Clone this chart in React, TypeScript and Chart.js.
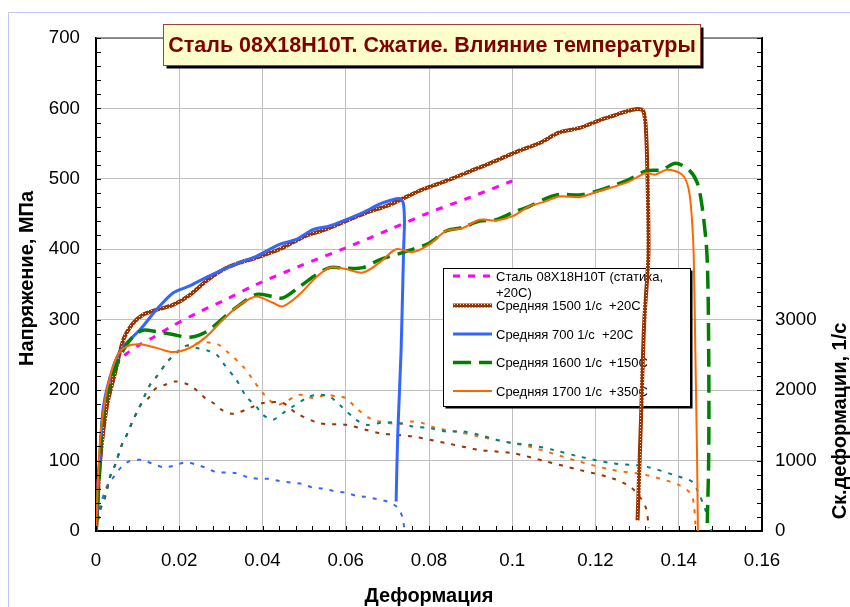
import React, { useEffect, useRef } from "react";
import { Chart, registerables } from "chart.js";

Chart.register(...registerables);

const FONT = '"Liberation Sans", Arial, Helvetica, sans-serif';

// ---- Stress–strain curves (strain, MPa) ----
const staticStrain = [0, 0.0005, 0.0014, 0.0026, 0.004, 0.0055, 0.0074, 0.0106, 0.0138, 0.0177, 0.0241, 0.0313, 0.0385, 0.0489, 0.06, 0.0705, 0.08, 0.09, 0.1];
const staticStress = [0, 75, 120, 189, 222, 240, 252, 265, 275, 289, 309, 329, 350, 376, 402, 428, 452, 474, 497];

const s1500Strain = [0, 0.001, 0.0026, 0.0046, 0.0066, 0.0089, 0.0113, 0.0145, 0.0185, 0.0225, 0.0265, 0.0305, 0.0345, 0.0385, 0.0441, 0.05, 0.055, 0.06, 0.065, 0.07, 0.0737, 0.0785, 0.0841, 0.09, 0.095, 0.1017, 0.107, 0.1113, 0.116, 0.1209, 0.124, 0.127, 0.1297, 0.1315, 0.1322, 0.1326, 0.1327, 0.1317, 0.1309, 0.1301];
const s1500Stress = [0, 100, 177, 225, 272, 295, 307, 314, 321, 335, 355, 371, 381, 388, 400, 418, 428, 440, 452, 462, 472, 485, 497, 511, 523, 540, 552, 566, 572, 583, 589, 595, 599, 596, 560, 470, 390, 296, 153, 15];

const s700Strain = [0, 0.0008, 0.0018, 0.0042, 0.0066, 0.0106, 0.0145, 0.0185, 0.0225, 0.0265, 0.0305, 0.0345, 0.0385, 0.0441, 0.0481, 0.0521, 0.0561, 0.0601, 0.0641, 0.0681, 0.071, 0.0728, 0.0738, 0.0741, 0.0739, 0.0733, 0.0725, 0.0721];
const s700Stress = [0, 90, 177, 234, 262, 286, 314, 338, 348, 360, 371, 381, 390, 407, 414, 428, 433, 442, 452, 464, 470, 472, 466, 440, 400, 257, 139, 42];

const s1600Strain = [0, 0.0008, 0.0018, 0.0042, 0.0066, 0.0089, 0.0113, 0.0145, 0.0185, 0.0225, 0.0265, 0.0305, 0.0345, 0.0385, 0.0425, 0.0449, 0.0489, 0.0525, 0.0561, 0.06, 0.0641, 0.0681, 0.0745, 0.0801, 0.0841, 0.0881, 0.0921, 0.0961, 0.1001, 0.1041, 0.108, 0.1113, 0.1161, 0.12, 0.124, 0.128, 0.132, 0.136, 0.1392, 0.1424, 0.1444, 0.1456, 0.1468, 0.1472, 0.1472, 0.1468];
const s1600Stress = [0, 80, 168, 224, 257, 276, 285, 283, 279, 275, 283, 302, 321, 336, 333, 331, 347, 362, 374, 373, 374, 385, 397, 409, 426, 431, 440, 442, 452, 461, 472, 478, 477, 482, 490, 499, 511, 513, 522, 513, 495, 461, 390, 248, 106, 0];

const s1700Strain = [0, 0.001, 0.0026, 0.005, 0.0074, 0.0106, 0.0145, 0.0185, 0.0225, 0.0265, 0.0305, 0.0345, 0.0385, 0.0425, 0.0449, 0.0489, 0.0525, 0.0561, 0.06, 0.0641, 0.0681, 0.0721, 0.0761, 0.0801, 0.0841, 0.0881, 0.0921, 0.0961, 0.1001, 0.1041, 0.108, 0.1113, 0.1161, 0.12, 0.124, 0.128, 0.132, 0.1344, 0.1372, 0.1408, 0.1424, 0.1432, 0.1436, 0.144, 0.1444, 0.1446];
const s1700Stress = [0, 130, 200, 248, 262, 265, 260, 254, 260, 276, 300, 321, 333, 324, 319, 336, 358, 374, 372, 367, 381, 400, 396, 407, 426, 430, 442, 441, 447, 461, 468, 475, 474, 481, 488, 496, 508, 506, 513, 506, 485, 440, 390, 248, 106, 0];

// ---- Strain-rate curves (strain, 1/s) ----
const r700Strain = [0, 0.001, 0.0026, 0.0044, 0.0062, 0.0082, 0.011, 0.0138, 0.0162, 0.0186, 0.0212, 0.0238, 0.0262, 0.0288, 0.0314, 0.0337, 0.0365, 0.0391, 0.0417, 0.0443, 0.0469, 0.0495, 0.0521, 0.0546, 0.0573, 0.06, 0.0624, 0.0649, 0.0676, 0.0701, 0.0725, 0.0737, 0.0741];
const r700Rate = [0, 346, 630, 780, 915, 996, 1010, 949, 906, 925, 972, 949, 901, 839, 829, 820, 764, 740, 740, 707, 687, 669, 616, 602, 565, 545, 502, 484, 451, 417, 331, 181, 0];

const r1500Strain = [0, 0.001, 0.0022, 0.0034, 0.0046, 0.0062, 0.0074, 0.0086, 0.0106, 0.0126, 0.0142, 0.0166, 0.019, 0.0218, 0.0238, 0.0262, 0.0282, 0.0302, 0.0329, 0.0369, 0.0401, 0.0449, 0.0481, 0.0537, 0.0601, 0.0681, 0.0761, 0.0841, 0.0921, 0.1001, 0.108, 0.1161, 0.124, 0.1288, 0.132, 0.1328];
const r1500Rate = [0, 300, 488, 773, 939, 1223, 1366, 1532, 1778, 1887, 2016, 2077, 2124, 2087, 2016, 1887, 1817, 1721, 1664, 1745, 1817, 1817, 1674, 1532, 1508, 1390, 1342, 1248, 1152, 1105, 990, 868, 750, 607, 346, 40];

const r1600Strain = [0, 0.001, 0.0022, 0.0034, 0.0046, 0.0062, 0.0074, 0.0086, 0.0102, 0.0118, 0.013, 0.0146, 0.0174, 0.0198, 0.0218, 0.0242, 0.0266, 0.029, 0.0305, 0.0337, 0.0361, 0.0385, 0.0401, 0.0425, 0.0449, 0.0473, 0.0513, 0.0537, 0.0561, 0.0585, 0.0625, 0.0649, 0.0681, 0.0721, 0.0761, 0.0801, 0.0841, 0.0881, 0.0921, 0.0961, 0.1001, 0.1041, 0.11, 0.1161, 0.124, 0.132, 0.14, 0.1432, 0.1448, 0.1464, 0.1472, 0.1478];
const r1600Rate = [0, 300, 488, 773, 939, 1223, 1366, 1532, 1730, 1934, 2077, 2195, 2422, 2550, 2632, 2598, 2565, 2503, 2385, 2148, 1910, 1768, 1650, 1579, 1674, 1768, 1910, 1934, 1910, 1792, 1579, 1508, 1532, 1541, 1484, 1461, 1413, 1413, 1366, 1296, 1248, 1224, 1150, 1057, 963, 915, 773, 701, 536, 299, 110, 0];

const r1700Strain = [0, 0.001, 0.0022, 0.0034, 0.0046, 0.0062, 0.0074, 0.0086, 0.0102, 0.0118, 0.013, 0.0146, 0.0174, 0.0198, 0.0218, 0.0238, 0.0266, 0.0294, 0.0314, 0.0353, 0.0377, 0.0401, 0.0433, 0.0457, 0.0489, 0.0521, 0.0553, 0.0577, 0.0601, 0.0625, 0.0657, 0.0681, 0.0729, 0.0761, 0.0785, 0.0817, 0.0865, 0.0921, 0.1001, 0.1041, 0.1161, 0.124, 0.132, 0.14, 0.1428, 0.1436, 0.144, 0.1444];
const r1700Rate = [0, 300, 488, 773, 939, 1223, 1366, 1532, 1730, 1934, 2077, 2195, 2422, 2560, 2632, 2660, 2679, 2646, 2551, 2337, 2148, 1958, 1790, 1840, 1934, 1887, 1934, 1910, 1887, 1745, 1603, 1555, 1522, 1555, 1532, 1461, 1413, 1342, 1248, 1200, 986, 868, 797, 654, 536, 394, 110, 0];

// ---- Text ----
const titleText = "Сталь 08Х18Н10Т. Сжатие. Влияние температуры";
const xTitle = "Деформация";
const yTitle = "Напряжение, МПа";
const y2Title = "Ск.деформации, 1/с";
const legendLabels = [
  "Сталь 08Х18Н10Т (статика, +20С)",
  "Средняя 1500 1/с  +20С",
  "Средняя 700 1/с  +20С",
  "Средняя 1600 1/с  +150С",
  "Средняя 1700 1/с  +350С",
];
const rateLabels = ["Скорость 700 1/с", "Скорость 1500 1/с", "Скорость 1600 1/с", "Скорость 1700 1/с"];

// axis ranges and tick spacing
const strainMax = 0.16;
const strainStep = 0.02;
const strainMinor = 0.004;
const stressMax = 700;
const stressStep = 100;
const stressMinor = 20;
const rateMax = 7000;
const rateStep = 1000;
const rateMinor = 200;
const rateLabelMax = 3000;

const TICK_FONT = { size: 18.7, family: FONT };

const pts = (xs: number[], ys: number[]) => xs.map((x, i) => ({ x, y: ys[i] }));

function wrapText(ctx: CanvasRenderingContext2D, text: string, maxWidth: number): string[] {
  const words = text.split(" ");
  const lines: string[] = [];
  let cur = "";
  for (const w of words) {
    const test = cur ? cur + " " + w : w;
    if (ctx.measureText(test).width > maxWidth && cur) {
      lines.push(cur);
      cur = w;
    } else cur = test;
  }
  if (cur) lines.push(cur);
  return lines;
}

const decorPlugin = {
  id: "decor",
  beforeDraw(chart: any) {
    const c: CanvasRenderingContext2D = chart.ctx;
    c.save();
    c.strokeStyle = "#c4c4f4";
    c.lineWidth = 1;
    c.beginPath();
    c.moveTo(8.5, chart.height);
    c.lineTo(8.5, 12.5);
    c.lineTo(chart.width, 12.5);
    c.stroke();
    c.restore();
  },
  beforeDatasetsDraw(chart: any) {
    const c: CanvasRenderingContext2D = chart.ctx;
    const a = chart.chartArea;
    c.save();
    // upper frame of the plot area
    c.strokeStyle = "#6e6e6e";
    c.lineWidth = 1.5;
    c.beginPath();
    c.moveTo(a.left, a.top);
    c.lineTo(a.right, a.top);
    c.stroke();

    // legend box
    const bx = 443.5, by = 268.5, bw = 247, bh = 138;
    c.fillStyle = "#000";
    c.fillRect(bx + 2, by + 2, bw, bh);
    c.fillStyle = "#fff";
    c.fillRect(bx, by, bw, bh);
    c.strokeStyle = "#000";
    c.lineWidth = 1;
    c.strokeRect(bx, by, bw, bh);

    c.font = `13px ${FONT}`;
    c.textBaseline = "middle";
    c.textAlign = "left";
    const rowY = [277, 306.5, 335, 363.5, 392];
    for (let i = 0; i < legendLabels.length; i++) {
      const ds = chart.data.datasets[i];
      const y = rowY[i];
      c.save();
      c.strokeStyle = ds.borderColor;
      c.lineWidth = ds.borderWidth;
      c.setLineDash(ds.borderDash || []);
      c.beginPath();
      c.moveTo(453, y - 1);
      c.lineTo(492, y - 1);
      c.stroke();
      c.restore();
      c.fillStyle = "#000";
      const lines = wrapText(c, legendLabels[i], 185);
      lines.forEach((ln, k) => c.fillText(ln, 496, y + k * 16));
    }
    c.restore();
  },
  afterDraw(chart: any) {
    const c: CanvasRenderingContext2D = chart.ctx;
    const a = chart.chartArea;
    const { x, y, y2 } = chart.scales;
    c.save();
    // inner tick marks
    c.strokeStyle = "#000";
    c.lineWidth = 1;
    c.beginPath();
    for (let i = 0; i <= Math.round(strainMax / strainMinor); i++) {
      const px = Math.round(x.getPixelForValue(i * strainMinor)) + 0.5;
      c.moveTo(px, a.bottom);
      c.lineTo(px, a.bottom - 5);
    }
    for (let i = 0; i <= stressMax / stressMinor; i++) {
      const py = Math.round(y.getPixelForValue(i * stressMinor)) + 0.5;
      c.moveTo(a.left, py);
      c.lineTo(a.left + 5, py);
    }
    for (let i = 0; i <= rateMax / rateMinor; i++) {
      const py = Math.round(y2.getPixelForValue(i * rateMinor)) + 0.5;
      c.moveTo(a.right - 5, py);
      c.lineTo(a.right, py);
    }
    c.stroke();

    // axis titles
    c.fillStyle = "#000";
    c.font = `bold 20px ${FONT}`;
    c.textAlign = "center";
    c.textBaseline = "middle";
    c.fillText(xTitle, (a.left + a.right) / 2, 596);
    c.save();
    c.translate(27, 278.5);
    c.rotate(-Math.PI / 2);
    c.fillText(yTitle, 0, 0);
    c.restore();
    c.save();
    c.translate(840, 421);
    c.rotate(-Math.PI / 2);
    c.fillText(y2Title, 0, 0);
    c.restore();

    // chart title box
    const tx = 163.5, ty = 24.5, tw = 537, th = 41;
    c.fillStyle = "#000";
    c.fillRect(tx + 3, ty + 3, tw, th);
    c.fillStyle = "#ffffcc";
    c.fillRect(tx, ty, tw, th);
    c.strokeStyle = "#a04040";
    c.lineWidth = 1;
    c.strokeRect(tx, ty, tw, th);
    c.fillStyle = "#800000";
    c.font = `bold 21.5px ${FONT}`;
    c.fillText(titleText, tx + tw / 2, ty + th / 2 + 1);
    c.restore();
  },
};

export default function App() {
  const ref = useRef<HTMLCanvasElement>(null);

  useEffect(() => {
    const canvas = ref.current!;
    const ctx = canvas.getContext("2d")!;

    // textured stroke for the 1500 1/s curve
    const pc = document.createElement("canvas");
    pc.width = 3;
    pc.height = 3;
    const g = pc.getContext("2d")!;
    g.fillStyle = "#993300";
    g.fillRect(0, 0, 3, 3);
    g.fillStyle = "#f6dcc4";
    g.fillRect(1, 1, 1, 1);
    const brownPattern = ctx.createPattern(pc, "repeat");

    const base = { showLine: true, pointRadius: 0, pointHoverRadius: 0, fill: false, tension: 0.3 };
    const rateBase = { ...base, yAxisID: "y2", borderWidth: 2, borderDash: [4, 7] };

    const chart = new Chart(canvas, {
      type: "scatter",
      data: {
        datasets: [
          { ...base, label: legendLabels[0], data: pts(staticStrain, staticStress), borderColor: "#ff00ff", borderWidth: 3, borderDash: [7, 8], yAxisID: "y", order: 5 },
          { ...base, label: legendLabels[1], data: pts(s1500Strain, s1500Stress), borderColor: brownPattern, borderWidth: 4, yAxisID: "y", order: 4 },
          { ...base, label: legendLabels[2], data: pts(s700Strain, s700Stress), borderColor: "#3366ff", borderWidth: 3, yAxisID: "y", order: 3 },
          { ...base, label: legendLabels[3], data: pts(s1600Strain, s1600Stress), borderColor: "#008000", borderWidth: 3.5, borderDash: [18, 8], yAxisID: "y", order: 2 },
          { ...base, label: legendLabels[4], data: pts(s1700Strain, s1700Stress), borderColor: "#ff6600", borderWidth: 2, yAxisID: "y", order: 1 },
          { ...rateBase, label: rateLabels[0], data: pts(r700Strain, r700Rate), borderColor: "#3366ff", order: 9 },
          { ...rateBase, label: rateLabels[1], data: pts(r1500Strain, r1500Rate), borderColor: "#993300", order: 7 },
          { ...rateBase, label: rateLabels[2], data: pts(r1600Strain, r1600Rate), borderColor: "#008080", order: 6 },
          { ...rateBase, label: rateLabels[3], data: pts(r1700Strain, r1700Rate), borderColor: "#ff6600", order: 8 },
        ] as any,
      },
      options: {
        responsive: false,
        animation: false,
        events: [],
        layout: { padding: { top: 38, left: 0, right: 0, bottom: 0 } },
        plugins: { legend: { display: false }, tooltip: { enabled: false }, title: { display: false } },
        scales: {
          x: {
            type: "linear",
            position: "bottom",
            min: 0,
            max: strainMax,
            ticks: {
              stepSize: strainStep,
              font: TICK_FONT,
              color: "#000",
              padding: 19,
              callback: (v: any) => Number(Number(v).toFixed(2)).toString(),
            },
            grid: { color: "#c0c0c0", lineWidth: 1, drawTicks: false },
            border: { display: true, color: "#000", width: 2 },
            afterFit: (s: any) => { s.height = 76; },
          },
          y: {
            type: "linear",
            position: "left",
            min: 0,
            max: stressMax,
            ticks: { stepSize: stressStep, font: TICK_FONT, color: "#000", padding: 16 },
            grid: { color: "#c0c0c0", lineWidth: 1, drawTicks: false },
            border: { display: true, color: "#000", width: 2 },
            afterFit: (s: any) => { s.width = 96; },
          },
          y2: {
            type: "linear",
            position: "right",
            min: 0,
            max: rateMax,
            ticks: {
              stepSize: rateStep,
              font: TICK_FONT,
              color: "#000",
              padding: 13,
              callback: (v: any) => (Number(v) <= rateLabelMax ? String(v) : ""),
            },
            grid: { display: false, drawTicks: false },
            border: { display: true, color: "#000", width: 2 },
            afterFit: (s: any) => { s.width = 88; },
          },
        },
      } as any,
      plugins: [decorPlugin],
    });

    return () => chart.destroy();
  }, []);

  return (
    <div style={{ position: "absolute", left: 0, top: 0, width: 850, height: 607, background: "#fff" }}>
      <canvas ref={ref} width={850} height={607} style={{ display: "block", width: 850, height: 607 }} />
    </div>
  );
}
